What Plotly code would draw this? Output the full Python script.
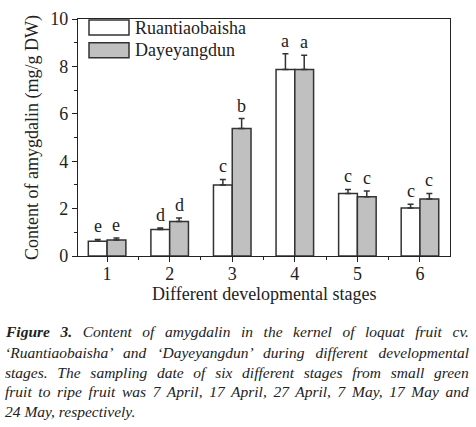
import plotly.graph_objects as go

stages = [1, 2, 3, 4, 5, 6]
ruan = [0.62, 1.12, 3.00, 7.87, 2.64, 2.03]
ruan_err = [0.08, 0.06, 0.23, 0.66, 0.17, 0.15]
daye = [0.68, 1.46, 5.38, 7.87, 2.50, 2.40]
daye_err = [0.08, 0.14, 0.42, 0.60, 0.24, 0.24]
ruan_letters = ["e", "d", "c", "a", "c", "c"]
daye_letters = ["e", "d", "b", "a", "c", "c"]
series_names = ["Ruantiaobaisha", "Dayeyangdun"]
y_ticks = [0, 2, 4, 6, 8, 10]
x_title = "Different developmental stages"
y_title = "Content of amygdalin (mg/g DW)"
caption_lines = [
    "<b>Figure 3.</b> Content of amygdalin in the kernel of loquat fruit cv.",
    "‘Ruantiaobaisha’ and ‘Dayeyangdun’ during different developmental",
    "stages. The sampling date of six different stages from small green",
    "fruit to ripe fruit was 7 April, 17 April, 27 April, 7 May, 17 May and",
    "24 May, respectively.",
]

FONT = "Liberation Serif, Times New Roman, serif"
TXT = "#222222"
W, H = 476, 427
ML, MR, MT, MB = 78, 26, 19, 171
PW = W - ML - MR
PH = H - MT - MB

def px2x(px):
    return (px - ML) / PW

def py2y(py):
    return 1 - (py - MT) / PH

fig = go.Figure()
err_style = dict(type="data", symmetric=False, color="#333333", thickness=1.5, width=3)
fig.add_bar(x=stages, y=ruan, name=series_names[0], marker=dict(color="white", line=dict(color="#333333", width=1.5)),
            error_y=dict(array=ruan_err, arrayminus=[0]*6, **err_style), showlegend=False)
fig.add_bar(x=stages, y=daye, name=series_names[1], marker=dict(color="#c0c0c0", line=dict(color="#333333", width=1.5)),
            error_y=dict(array=daye_err, arrayminus=[0]*6, **err_style), showlegend=False)

annotations = []
off = 0.15
for s, v, e, l in zip(stages, ruan, ruan_err, ruan_letters):
    annotations.append(dict(x=s - off, y=v + e, text=l, showarrow=False, yanchor="bottom", yshift=1,
                            font=dict(family=FONT, size=18, color=TXT)))
for s, v, e, l in zip(stages, daye, daye_err, daye_letters):
    annotations.append(dict(x=s + off, y=v + e, text=l, showarrow=False, yanchor="bottom", yshift=1,
                            font=dict(family=FONT, size=18, color=TXT)))

# legend (manual, wide swatches)
shapes = []
fills = ["white", "#c0c0c0"]
sw_tops = [20, 42.7]
for name, fc, top in zip(series_names, fills, sw_tops):
    shapes.append(dict(type="rect", xref="paper", yref="paper", x0=px2x(89), x1=px2x(129),
                       y0=py2y(top + 15), y1=py2y(top), fillcolor=fc, line=dict(color="#333333", width=1.5)))
    annotations.append(dict(xref="paper", yref="paper", x=px2x(133), y=py2y(top + 7.5), text=name,
                            showarrow=False, xanchor="left", yanchor="middle",
                            font=dict(family=FONT, size=18, color=TXT)))

# x axis title
annotations.append(dict(xref="paper", yref="paper", x=0.5, y=py2y(294), text=x_title, showarrow=False,
                        xanchor="center", yanchor="middle", font=dict(family=FONT, size=18, color=TXT)))

# caption
cap_y = [331, 352, 372, 391, 411]
for line, py in zip(caption_lines, cap_y):
    annotations.append(dict(xref="paper", yref="paper", x=px2x(3), y=py2y(py), text="<i>" + line + "</i>",
                            showarrow=False, xanchor="left", yanchor="middle", align="left",
                            font=dict(family=FONT, size=15.5, color=TXT)))

fig.update_layout(
    width=W, height=H, margin=dict(l=ML, r=MR, t=MT, b=MB, autoexpand=False),
    paper_bgcolor="white", plot_bgcolor="white",
    barmode="group", bargap=0.4, bargroupgap=0,
    font=dict(family=FONT, size=18, color=TXT),
    annotations=annotations, shapes=shapes,
)
fig.update_xaxes(range=[0.535, 6.48], tickvals=stages, ticks="outside", ticklen=5, tickwidth=1.2,
                 tickcolor="#222", showline=True, linecolor="#222", linewidth=1.2, mirror=True,
                 showgrid=False, zeroline=False, tickfont=dict(size=18), automargin=False,
                 ticklabelstandoff=-4,
                 minor=dict(tickvals=[1.5, 2.5, 3.5, 4.5, 5.5], ticks="outside", ticklen=3, tickwidth=1.2, tickcolor="#222"))
fig.update_yaxes(range=[0, 10], tickvals=y_ticks, ticks="outside", ticklen=5, tickwidth=1.2,
                 tickcolor="#222", showline=True, linecolor="#222", linewidth=1.2, mirror=True,
                 showgrid=False, zeroline=False, tickfont=dict(size=18), automargin=False,
                 minor=dict(tickvals=[1, 3, 5, 7, 9], ticks="outside", ticklen=3, tickwidth=1.2, tickcolor="#222"),
                 title=dict(text=y_title, font=dict(size=18), standoff=6))

# remove default page margin; justify the first caption lines (like the printed caption)
post = """
document.body.style.margin = '0';
var gd = document.getElementById('{plot_id}');
var lines = %s;
var target = 464;
gd.querySelectorAll('text.annotation-text').forEach(function (t) {
  var txt = t.textContent;
  for (var i = 0; i < lines.length - 1; i++) {
    if (txt === lines[i]) {
      var w = t.getBBox().width;
      var n = (txt.match(/ /g) || []).length;
      if (n > 0 && w < target) { t.style.wordSpacing = ((target - w) / n) + 'px'; }
    }
  }
});
""" % str([l.replace("<b>", "").replace("</b>", "") for l in caption_lines])

fig.write_html("out.html", post_script=post, config={"displayModeBar": False})
